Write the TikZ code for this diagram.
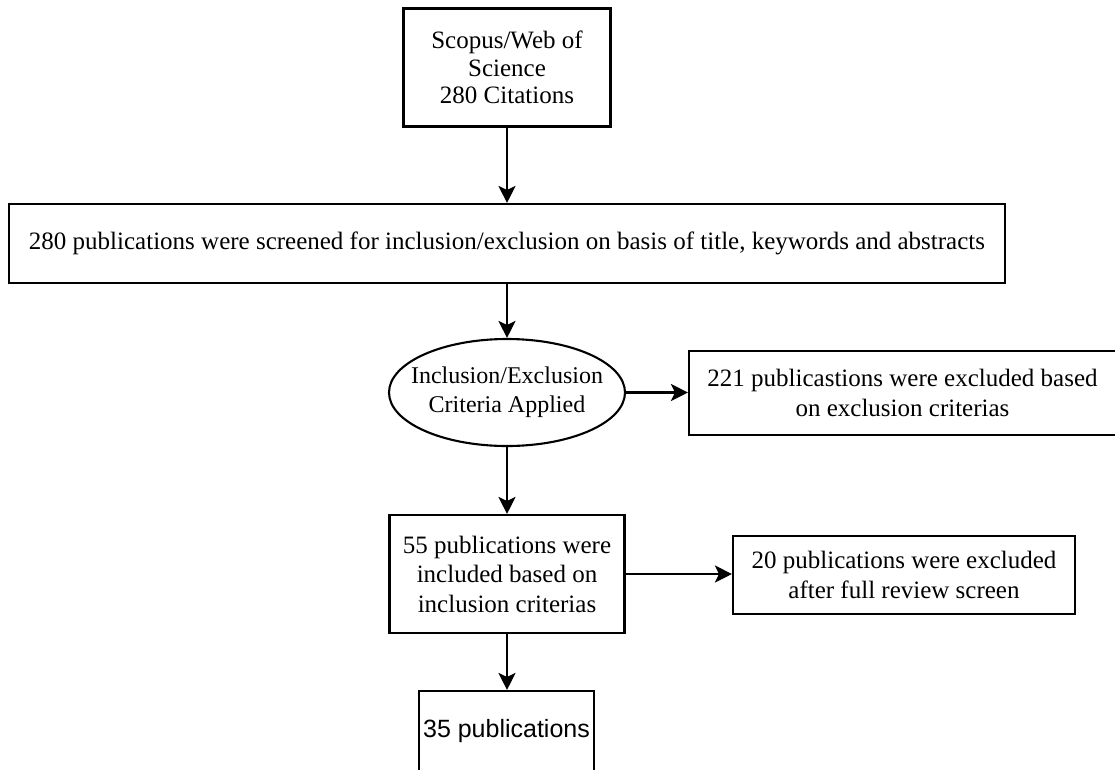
\documentclass[tikz,border=0pt]{standalone}
\usepackage{fontspec}
\setmainfont{Liberation Serif}
\newfontfamily\arialfont{Liberation Sans}
\usetikzlibrary{arrows.meta,shapes.geometric}
\tikzset{
  boxnode/.style={draw, line width=2.1pt, inner sep=0pt, align=center,
    font=\fontsize{25}{29.5}\selectfont},
  ellnode/.style={draw, ellipse, line width=2.1pt, inner xsep=-16pt, inner ysep=0pt, align=center,
    font=\fontsize{24}{29}\selectfont},
  arr/.style={line width=2.1pt, -{Stealth[length=17pt,width=17pt,inset=4pt]}}
}
\begin{document}
\begin{tikzpicture}[x=1pt,y=-1pt]
\useasboundingbox (0,0) rectangle (1115,769);
\node[boxnode, minimum width=207pt, minimum height=118pt, font=\fontsize{25}{27.5}\selectfont] (src) at (507,67.5)
  {Scopus/Web of\\Science\\280 Citations};
\node[boxnode, minimum width=996pt, minimum height=79pt] (screen) at (507,243.5)
  {280 publications were screened for inclusion/exclusion on basis of title, keywords and abstracts};
\node[ellnode, minimum width=236pt, minimum height=107pt] (crit) at (507,392.5)
  {Inclusion/Exclusion\\Criteria Applied};
\node[boxnode, minimum width=427pt, minimum height=84pt] (excl1) at (902.5,393)
  {221 publicastions were excluded based\\on exclusion criterias};
\node[boxnode, minimum width=235pt, minimum height=118pt] (incl) at (507,574)
  {55 publications were\\included based on\\inclusion criterias};
\node[boxnode, minimum width=342pt, minimum height=78pt] (excl2) at (904,575)
  {20 publications were excluded\\after full review screen};
\node[boxnode, minimum width=175pt, minimum height=80pt, font=\arialfont\fontsize{25}{29}\selectfont] (final) at (506.5,731)
  {35 publications};
\draw[arr] (src.south) -- (screen.north -| src.south);
\draw[arr] (screen.south -| crit.north) -- (crit.north);
\draw[arr] (crit.south) -- (incl.north);
\draw[arr] (incl.south) -- (final.north -| incl.south);
\draw[arr] (crit.east) -- (crit.east -| excl1.west);
\draw[arr] (incl.east) -- (incl.east -| excl2.west);
\end{tikzpicture}
\end{document}
